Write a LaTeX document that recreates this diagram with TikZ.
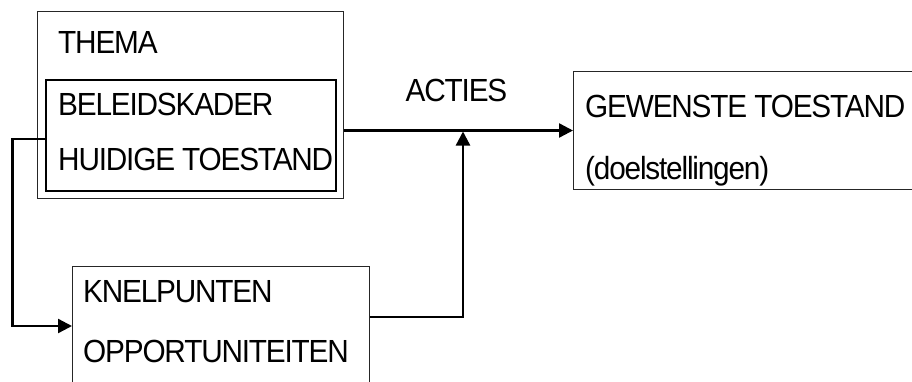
\documentclass[tikz,border=0pt]{standalone}
\usepackage{fontspec}
\setmainfont{Liberation Sans}[FakeStretch=0.93,LetterSpace=-3.7]
\usetikzlibrary{arrows.meta}
\begin{document}
\begin{tikzpicture}[x=1pt,y=-1pt,
 thinbox/.style={draw=black!85, line width=1pt, inner sep=0pt, anchor=north west},
 thickbox/.style={draw=black, line width=2.2pt, inner sep=0pt, anchor=north west},
 lbl/.style={anchor=base west, inner sep=0pt, font=\fontsize{32}{38}\selectfont},
 conn/.style={line width=2.4pt, -{Triangle[length=14pt,width=14pt]}},
 wire/.style={line width=2.4pt}]
\useasboundingbox (0,0) rectangle (912,381);
\clip (0,0) rectangle (912,381);
\node[thinbox, minimum width=306pt, minimum height=187pt] (outer) at (37,10.5) {};
\node[thickbox, minimum width=290pt, minimum height=111pt] (inner) at (45,79) {};
\node[thinbox, minimum width=297pt, minimum height=140pt] (knel) at (72,266) {};
\node[thinbox, minimum width=360pt, minimum height=118pt] (gew) at (573,71) {};
\node[lbl] (thema) at (58,53) {THEMA};
\node[lbl] (beleid) at (58,115) {BELEIDSKADER};
\node[lbl] (huidig) at (58,170) {HUIDIGE TOESTAND};
\node[lbl] (knelp) at (83,302) {KNELPUNTEN};
\node[lbl] (opport) at (83,362) {OPPORTUNITEITEN};
\node[lbl] (gewt) at (585,117) {GEWENSTE TOESTAND};
\node[lbl] (doel) at (585,179) {(doelstellingen)};
\node[lbl, anchor=base] (acties) at (456.5,101) {ACTIES};
\coordinate (c1) at (0,139);
\coordinate (c2) at (12.5,0);
\coordinate (c3) at (0,326);
\coordinate (c4) at (0,317);
\coordinate (j) at (463,0);
\draw[conn] (inner.west |- c1) -| (c2 |- c3) -- (knel.west |- c3);
\draw[conn] (outer.east |- gew.west) -- (gew.west);
\draw[conn, shorten >=1pt] (knel.east |- c4) -| (j |- gew.west);
\end{tikzpicture}
\end{document}
